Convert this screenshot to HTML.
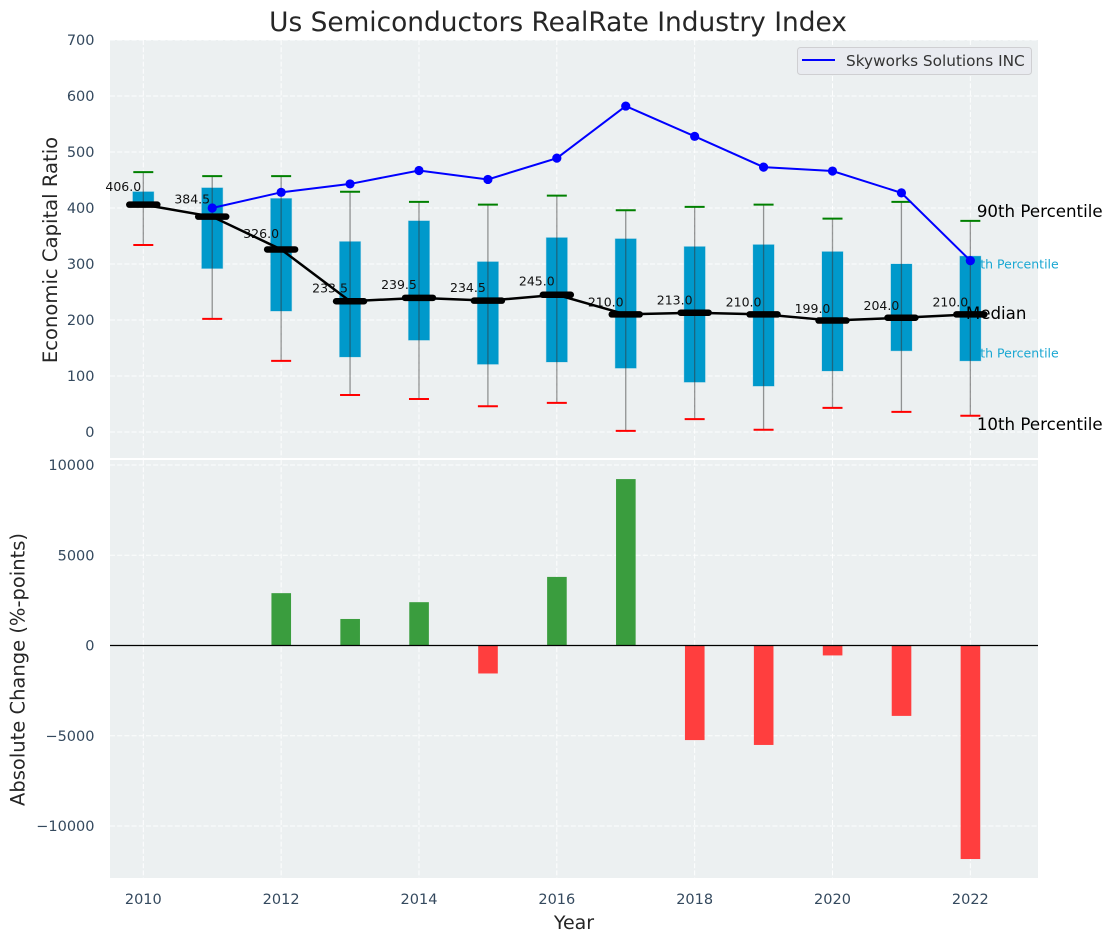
<!DOCTYPE html>
<html>
<head>
<meta charset="utf-8">
<title>Us Semiconductors RealRate Industry Index</title>
<style>
html,body{margin:0;padding:0;background:#fff;}
svg{display:block;}
text{font-family:"DejaVu Sans","Liberation Sans",sans-serif;}
</style>
</head>
<body>
<svg id="chart" xmlns="http://www.w3.org/2000/svg" width="1112" height="942" viewBox="0 0 1112 942"></svg>
<script>
const years = [2010,2011,2012,2013,2014,2015,2016,2017,2018,2019,2020,2021,2022];
const p90 = [464,457,457,429,411,406,422,396,402,406,381,411,377];
const p75 = [429,436,417,340,377,304,347,345,331,334.5,322,300,314];
const medians = [406,384.5,326,233.5,239.5,234.5,245,210,213,210,199,204,210];
const p25 = [402,292,216,134,164,121,125,114,89,82,109,145,127];
const p10 = [334,202,127,66,59,46,52,2,23,4,43,36,29];
const companyYears = [2011,2012,2013,2014,2015,2016,2017,2018,2019,2020,2021,2022];
const companyValues = [400,428,443,467,451,489,582,528,473,466,427,306];
const changeYears = [2012,2013,2014,2015,2016,2017,2018,2019,2020,2021,2022];
const changeValues = [2900,1470,2400,-1550,3800,9220,-5240,-5510,-550,-3900,-11830];
const xTicks = [2010,2012,2014,2016,2018,2020,2022];
const yTicksTop = [0,100,200,300,400,500,600,700];
const yTicksBottom = [-10000,-5000,0,5000,10000];

const svg = document.getElementById('chart');
const NS = 'http://www.w3.org/2000/svg';
const PL = 110, PR = 1038;
const T1 = 40, B1 = 458, T2 = 460, B2 = 878;
function sx(v){ return 143.3 + (v - 2010) * 68.92; }
function sy(v){ return 432 - v * 0.56; }
function sb(v){ return 645.5 - v * 0.01805; }
function mk(tag, attrs, parent){
  const el = document.createElementNS(NS, tag);
  for (const k in attrs) el.setAttribute(k, attrs[k]);
  (parent || svg).appendChild(el);
  return el;
}
function label(str, attrs, parent){
  const el = mk('text', attrs, parent);
  el.textContent = str;
  return el;
}
function fmtTick(v){ return v < 0 ? '\u2212' + (-v) : String(v); }
const GRID = {stroke:'#ffffff','stroke-width':1,'stroke-dasharray':'5 2.2','stroke-opacity':0.9};
function gridLine(x1,y1,x2,y2,parent){
  return mk('line',Object.assign({x1:x1,y1:y1,x2:x2,y2:y2},GRID),parent);
}

/* panels */
let el = mk('rect',{x:PL,y:T1,width:PR-PL,height:B1-T1,fill:'#ecf0f1'});


el = mk('rect',{x:PL,y:T2,width:PR-PL,height:B2-T2,fill:'#ecf0f1'});



/* grid */
const gridTop = mk('g',{});


const gridBottom = mk('g',{});


xTicks.forEach(function(t){
  gridLine(sx(t),T1,sx(t),B1,gridTop);
  gridLine(sx(t),T2,sx(t),B2,gridBottom);
});
yTicksTop.forEach(function(t){ gridLine(PL,sy(t),PR,sy(t),gridTop); });
yTicksBottom.forEach(function(t){ gridLine(PL,sb(t),PR,sb(t),gridBottom); });

/* tick labels */
yTicksTop.forEach(function(t){
  const e = label(fmtTick(t),{x:94.5,y:sy(t)+5,'text-anchor':'end','font-size':14.5,fill:'#34495e'});
  
  
});
yTicksBottom.forEach(function(t){
  const e = label(fmtTick(t),{x:94.5,y:sb(t)+5,'text-anchor':'end','font-size':14.5,fill:'#34495e'});
  
  
});
xTicks.forEach(function(t){
  const e = label(String(t),{x:sx(t),y:904,'text-anchor':'middle','font-size':14.5,fill:'#34495e'});
  
  
});

/* titles */
el = label('Us Semiconductors RealRate Industry Index',{x:558,y:31,'text-anchor':'middle','font-size':26.4,fill:'#262626'});


el = label('Economic Capital Ratio',{x:0,y:0,transform:'translate(57,250) rotate(-90)','text-anchor':'middle','font-size':19.6,fill:'#262626'});


el = label('Absolute Change (%-points)',{x:0,y:0,transform:'translate(24.5,669.5) rotate(-90)','text-anchor':'middle','font-size':19.5,fill:'#262626'});


el = label('Year',{x:574,y:929,'text-anchor':'middle','font-size':19,fill:'#262626'});



/* percentile annotations (behind boxes) */
const lastX = years.length - 1;
el = label('75th Percentile',{x:sx(years[lastX])-6,y:sy(p75[lastX]-14)+4.5,'font-size':12.5,fill:'#1aa7d2'});


el = label('25th Percentile',{x:sx(years[lastX])-6,y:sy(p25[lastX]+14)+4.5,'font-size':12.5,fill:'#1aa7d2'});


el = label('90th Percentile',{x:sx(years[lastX])+6.5,y:217,'font-size':16.67,fill:'#000'});


el = label('10th Percentile',{x:sx(years[lastX])+6.5,y:430,'font-size':16.67,fill:'#000'});



/* percentile boxes */
years.forEach(function(y,i){
  const e = mk('rect',{x:sx(y)-10.5,y:sy(p75[i]),width:21,height:sy(p25[i])-sy(p75[i]),fill:'#0099cb',stroke:'#0099cb','stroke-opacity':0.25,'stroke-width':1});
  
  
});
/* whiskers */
years.forEach(function(y,i){
  let e = mk('line',{x1:sx(y),x2:sx(y),y1:sy(p90[i]),y2:sy(p10[i]),stroke:'#333','stroke-opacity':0.5,'stroke-width':1.3});
  
  
  e = mk('line',{x1:sx(y)-10,x2:sx(y)+10,y1:sy(p90[i]),y2:sy(p90[i]),stroke:'#008000','stroke-width':2});
  
  
  e = mk('line',{x1:sx(y)-10,x2:sx(y)+10,y1:sy(p10[i]),y2:sy(p10[i]),stroke:'#ff0000','stroke-width':2});
  
  
});

/* median value labels and Median annotation */
years.forEach(function(y,i){
  const e = label(medians[i].toFixed(1),{x:sx(y)-20,y:sy(medians[i]*1.05+12)+4.5,'text-anchor':'middle','font-size':12.5,fill:'#111'});
  
  
});
el = label('Median',{x:sx(years[lastX])-4.5,y:319,'font-size':16.67,fill:'#000'});



/* median line */
el = mk('polyline',{points:years.map(function(y,i){return sx(y)+','+sy(medians[i]);}).join(' '),fill:'none',stroke:'#000','stroke-width':2.5});


years.forEach(function(y,i){
  const e = mk('line',{x1:sx(y)-14,x2:sx(y)+14,y1:sy(medians[i]),y2:sy(medians[i]),stroke:'#000','stroke-width':6.5,'stroke-linecap':'round'});
  
  
});

/* company series */
el = mk('polyline',{points:companyYears.map(function(y,i){return sx(y)+','+sy(companyValues[i]);}).join(' '),fill:'none',stroke:'#0000ff','stroke-width':2});


companyYears.forEach(function(y,i){
  const e = mk('circle',{cx:sx(y),cy:sy(companyValues[i]),r:4.6,fill:'#0000ff'});
  
  
});

/* change bars */
changeYears.forEach(function(y,i){
  const v = changeValues[i];
  const top = Math.min(sb(v),sb(0));
  const e = mk('rect',{x:sx(y)-9.7,y:top,width:19.6,height:Math.abs(sb(v)-sb(0)),fill:v>=0?'#3a9d3e':'#ff3e3e'});
  
  
});
el = mk('line',{x1:PL,x2:PR,y1:sb(0),y2:sb(0),stroke:'#000','stroke-width':1.3});



/* legend */
const legend = mk('g',{});


mk('rect',{x:797.5,y:47.5,width:234,height:27,rx:3,ry:3,fill:'#e9ebf0',stroke:'#cfcfd2','stroke-width':1},legend);
mk('line',{x1:802,x2:835,y1:60,y2:60,stroke:'#0000ff','stroke-width':2},legend);
el = label('Skyworks Solutions INC',{x:846,y:66,'font-size':15.3,fill:'#333'},legend);


</script>
</body>
</html>
